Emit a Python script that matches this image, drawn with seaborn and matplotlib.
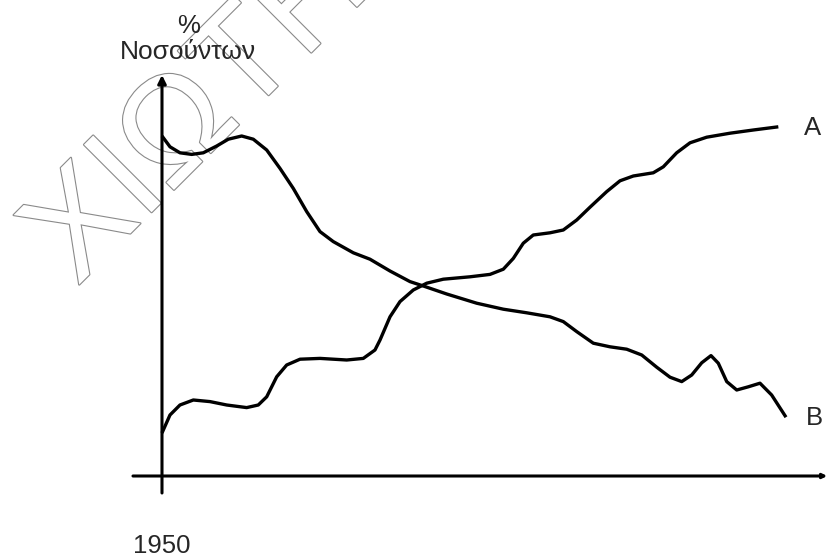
import numpy as np
import pandas as pd
import matplotlib
matplotlib.use('Agg')
import matplotlib.pyplot as plt
import matplotlib.patheffects as pe
import seaborn as sns

# ─── Data (x = time since 1950, y = % patients) ───
a_x = [0.0, 1.28, 2.88, 5.02, 7.69, 10.37, 13.57, 15.43, 16.78, 18.38, 19.98,
       22.12, 25.32, 29.6, 32.26, 34.13, 34.94, 36.54, 38.14, 40.27, 42.42,
       45.08, 49.36, 52.56, 54.7, 56.3, 57.9, 59.5, 62.18, 64.31, 66.46,
       68.59, 71.27, 73.4, 75.53, 78.73, 80.34, 82.48, 84.62, 87.29, 91.03,
       94.76, 98.77]
a_y = [10.75, 15.25, 17.75, 19.0, 18.6, 17.75, 17.1, 17.75, 19.8, 24.8, 27.75,
       29.2, 29.4, 29.0, 29.4, 31.5, 34.0, 39.8, 43.6, 46.5, 48.2,
       49.2, 49.8, 50.4, 51.7, 54.4, 58.2, 60.25, 60.8, 61.5, 64.0,
       67.2, 71.1, 73.8, 75.0, 75.8, 77.3, 80.8, 83.3, 84.7, 85.7,
       86.5, 87.3]

b_x = [0.0, 1.28, 2.88, 4.76, 6.62, 8.77, 10.63, 12.77, 14.63, 16.78, 18.91,
       21.04, 23.19, 25.32, 27.45, 30.66, 33.33, 36.54, 39.74, 41.88, 45.63,
       50.43, 54.7, 58.45, 62.18, 64.31, 66.46, 69.12, 71.79, 74.47, 76.88,
       79.28, 81.41, 83.29, 84.89, 86.49, 87.98, 89.15, 90.5, 92.1, 93.96,
       95.83, 97.7, 100.0]
b_y = [85.0, 82.3, 80.8, 80.4, 80.8, 82.5, 84.2, 85.0, 84.2, 81.5, 76.9,
       71.9, 66.1, 61.1, 58.6, 55.8, 54.2, 51.25, 48.6, 47.5, 45.5,
       43.2, 41.7, 40.8, 39.8, 38.6, 36.1, 33.2, 32.3, 31.7, 30.25,
       27.2, 24.7, 23.6, 25.25, 28.3, 30.1, 28.2, 23.6, 21.5, 22.3,
       23.2, 20.25, 14.7]

curve_names = ['A', 'B']
y_label = ['%', 'Νοσούντων']
start_year = '1950'
watermark = 'ΧΙΩΤΗΣ'

# ─── Style ───────────────────────────────────────────────────
sns.set_style('white')
plt.rcParams['font.family'] = ['Liberation Sans', 'DejaVu Sans']

df = pd.concat([
    pd.DataFrame({'x': a_x, 'y': a_y, 'curve': curve_names[0]}),
    pd.DataFrame({'x': b_x, 'y': b_y, 'curve': curve_names[1]}),
])

fig = plt.figure(figsize=(8.28, 5.58), dpi=100)
ax = fig.add_axes([0, 0, 1, 1])
ax.set_xlim(-25.96, 106.73)
ax.set_ylim(-20.5, 119.0)
ax.axis('off')

# ── Watermark (outlined letters behind everything) ─────────────
ax.text(0.093, 0.486, watermark, transform=ax.transAxes, fontsize=100,
        rotation=45, rotation_mode='anchor', ha='left', va='baseline',
        color='white', zorder=0,
        path_effects=[pe.withStroke(linewidth=1.6, foreground='#8a8a8a')])

# ── Curves ─────────────────────────────────────────────────────
sns.lineplot(data=df, x='x', y='y', hue='curve', palette=['black', 'black'],
             estimator=None, legend=False, lw=2.4, ax=ax, zorder=3)
for line in ax.lines:
    line.set_solid_joinstyle('round')
    line.set_solid_capstyle('butt')

# ── Hand-drawn style axes ──────────────────────────────────────
ax.annotate('', xy=(0, 100.25), xytext=(0, -4.25), zorder=2,
            arrowprops=dict(arrowstyle='-|>', lw=2.2, color='black',
                            mutation_scale=12, shrinkA=0, shrinkB=0))
ax.annotate('', xy=(106.6, 0), xytext=(-4.65, 0), zorder=2,
            arrowprops=dict(arrowstyle='->', lw=2.2, color='black',
                            mutation_scale=6, shrinkA=0, shrinkB=0))

# ── Labels ─────────────────────────────────────────────────────
ax.text(4.2, 112.5, y_label[0], fontsize=18.5, ha='center', va='center', zorder=4)
ax.text(4.2, 106.0, y_label[1], fontsize=19, ha='center', va='center', zorder=4)
ax.text(104.3, 87.0, curve_names[0], fontsize=18.5, ha='center', va='center')
ax.text(104.5, 14.5, curve_names[1], fontsize=18.5, ha='center', va='center')
ax.text(0, -17.5, start_year, fontsize=18.5, ha='center', va='center')

fig.savefig('out.png', dpi=100)
plt.close(fig)
